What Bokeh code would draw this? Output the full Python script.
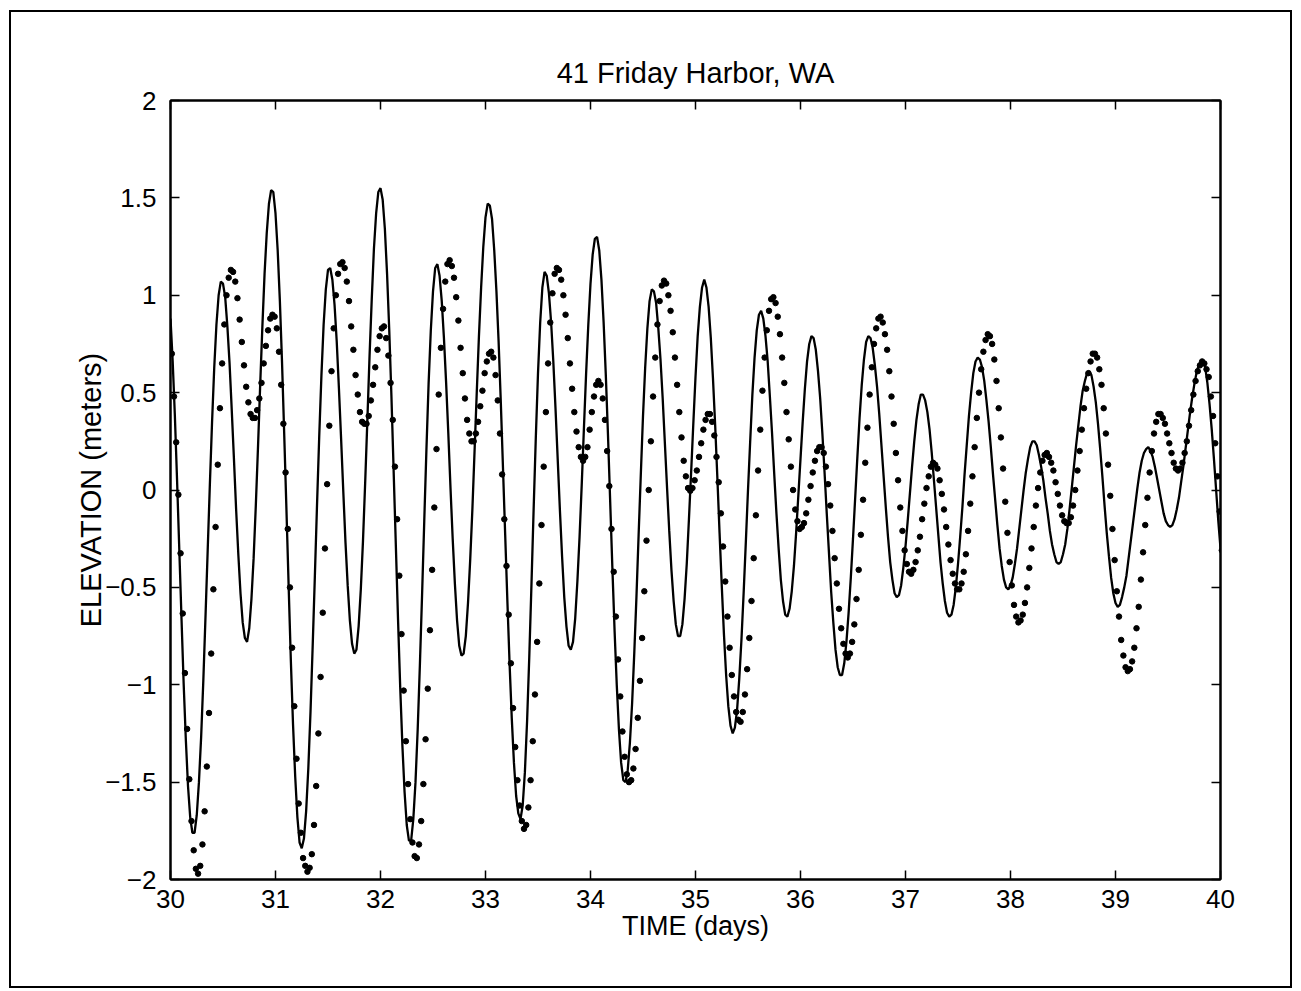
import numpy as np
from bokeh.plotting import figure
from bokeh.models import Range1d, LinearAxis, FixedTicker, ColumnDataSource
from bokeh.embed import file_html
from bokeh.resources import INLINE

# ---------------- data ----------------
title_text = "41 Friday Harbor, WA"
x_label = "TIME (days)"
y_label = "ELEVATION (meters)"

x_ticks = [30, 31, 32, 33, 34, 35, 36, 37, 38, 39, 40]
x_tick_labels = ["30", "31", "32", "33", "34", "35", "36", "37", "38", "39", "40"]
y_ticks = [-2, -1.5, -1, -0.5, 0, 0.5, 1, 1.5, 2]
y_tick_labels = ["\u22122", "\u22121.5", "\u22121", "\u22120.5", "0", "0.5", "1", "1.5", "2"]

# model (solid line): half-hourly samples starting at day 30.0
model_t0 = 30.0
model_dt = 1.0 / 48.0
model_elev = [
    0.88, 0.66, 0.38, 0.05, -0.30, -0.65, -0.99, -1.28, -1.52, -1.68,
    -1.76, -1.76, -1.67, -1.50, -1.27, -0.98, -0.65, -0.31, 0.03, 0.35,
    0.63, 0.85, 1.00, 1.07, 1.06, 0.99, 0.84, 0.65, 0.41, 0.16,
    -0.10, -0.33, -0.53, -0.68, -0.76, -0.78, -0.71, -0.56, -0.35, -0.08,
    0.22, 0.54, 0.84, 1.11, 1.32, 1.47, 1.54, 1.53, 1.42, 1.23,
    0.97, 0.65, 0.28, -0.10, -0.49, -0.87, -1.20, -1.47, -1.68, -1.81,
    -1.84, -1.79, -1.65, -1.43, -1.14, -0.80, -0.44, -0.07, 0.28, 0.59,
    0.85, 1.03, 1.13, 1.14, 1.08, 0.95, 0.76, 0.52, 0.26, -0.01,
    -0.27, -0.49, -0.67, -0.79, -0.84, -0.82, -0.70, -0.51, -0.26, 0.04,
    0.36, 0.69, 0.98, 1.24, 1.42, 1.53, 1.55, 1.49, 1.34, 1.11,
    0.82, 0.48, 0.10, -0.28, -0.66, -1.01, -1.31, -1.55, -1.72, -1.80,
    -1.80, -1.69, -1.50, -1.23, -0.90, -0.54, -0.16, 0.21, 0.55, 0.82,
    1.02, 1.14, 1.16, 1.10, 0.97, 0.78, 0.55, 0.29, 0.01, -0.25,
    -0.48, -0.67, -0.80, -0.85, -0.84, -0.75, -0.58, -0.36, -0.10, 0.20,
    0.50, 0.79, 1.04, 1.25, 1.40, 1.47, 1.46, 1.39, 1.23, 1.02,
    0.76, 0.45, 0.11, -0.23, -0.57, -0.89, -1.17, -1.40, -1.57, -1.66,
    -1.69, -1.62, -1.45, -1.19, -0.86, -0.49, -0.10, 0.27, 0.60, 0.86,
    1.04, 1.12, 1.10, 1.01, 0.86, 0.66, 0.42, 0.16, -0.10, -0.34,
    -0.55, -0.70, -0.80, -0.82, -0.78, -0.66, -0.47, -0.24, 0.03, 0.32,
    0.60, 0.85, 1.06, 1.21, 1.29, 1.30, 1.23, 1.08, 0.86, 0.59,
    0.28, -0.06, -0.40, -0.72, -1.00, -1.23, -1.40, -1.49, -1.50, -1.44,
    -1.30, -1.10, -0.84, -0.55, -0.23, 0.08, 0.38, 0.63, 0.83, 0.97,
    1.03, 1.02, 0.96, 0.83, 0.67, 0.47, 0.24, 0.01, -0.21, -0.41,
    -0.57, -0.69, -0.75, -0.75, -0.69, -0.56, -0.38, -0.15, 0.09, 0.34,
    0.58, 0.79, 0.94, 1.04, 1.08, 1.04, 0.94, 0.78, 0.57, 0.33,
    0.06, -0.22, -0.49, -0.74, -0.95, -1.11, -1.21, -1.25, -1.22, -1.13,
    -0.97, -0.77, -0.53, -0.27, 0.00, 0.25, 0.49, 0.68, 0.82, 0.90,
    0.92, 0.88, 0.79, 0.66, 0.48, 0.29, 0.08, -0.12, -0.30, -0.46,
    -0.57, -0.64, -0.65, -0.61, -0.52, -0.39, -0.22, -0.03, 0.16, 0.35,
    0.52, 0.66, 0.75, 0.79, 0.78, 0.72, 0.61, 0.47, 0.29, 0.09,
    -0.12, -0.32, -0.52, -0.68, -0.82, -0.91, -0.95, -0.95, -0.89, -0.78,
    -0.63, -0.45, -0.25, -0.04, 0.17, 0.37, 0.54, 0.67, 0.76, 0.79,
    0.78, 0.73, 0.64, 0.53, 0.39, 0.23, 0.07, -0.09, -0.24, -0.37,
    -0.46, -0.53, -0.55, -0.54, -0.49, -0.40, -0.29, -0.16, -0.02, 0.12,
    0.25, 0.36, 0.44, 0.49, 0.49, 0.46, 0.40, 0.31, 0.19, 0.05,
    -0.09, -0.23, -0.37, -0.48, -0.57, -0.63, -0.65, -0.64, -0.59, -0.50,
    -0.38, -0.24, -0.09, 0.08, 0.23, 0.38, 0.50, 0.60, 0.66, 0.68,
    0.67, 0.63, 0.56, 0.46, 0.35, 0.22, 0.08, -0.05, -0.18, -0.30,
    -0.39, -0.46, -0.50, -0.51, -0.49, -0.45, -0.38, -0.30, -0.20, -0.10,
    0.00, 0.09, 0.16, 0.22, 0.25, 0.25, 0.23, 0.18, 0.12, 0.05,
    -0.04, -0.12, -0.21, -0.28, -0.33, -0.37, -0.38, -0.37, -0.33, -0.28,
    -0.20, -0.10, 0.01, 0.12, 0.23, 0.33, 0.43, 0.51, 0.56, 0.60,
    0.61, 0.59, 0.53, 0.45, 0.34, 0.21, 0.07, -0.08, -0.22, -0.34,
    -0.45, -0.53, -0.58, -0.60, -0.59, -0.55, -0.50, -0.44, -0.35, -0.26,
    -0.17, -0.08, 0.01, 0.09, 0.15, 0.19, 0.21, 0.22, 0.20, 0.17,
    0.12, 0.06, 0.00, -0.06, -0.12, -0.16, -0.18, -0.19, -0.18, -0.15,
    -0.10, -0.04, 0.04, 0.12, 0.21, 0.30, 0.39, 0.47, 0.54, 0.60,
    0.64, 0.66, 0.66, 0.63, 0.55, 0.44, 0.31, 0.16, 0.00, -0.16, -0.30,
]

# observed (dots): half-hourly samples starting at day 30.0125
obs_t0 = 30.0125
obs_dt = 1.0 / 48.0
obs_elev = [
    0.70, 0.48, 0.245, -0.024, -0.325, -0.634, -0.94, -1.227, -1.485, -1.70,
    -1.85, -1.945, -1.97, -1.93, -1.82, -1.65, -1.42, -1.145, -0.84, -0.51,
    -0.19, 0.13, 0.42, 0.65, 0.85, 1.00, 1.09, 1.13, 1.12, 1.07,
    0.985, 0.875, 0.76, 0.64, 0.53, 0.45, 0.39, 0.37, 0.37, 0.41,
    0.47, 0.55, 0.65, 0.74, 0.82, 0.88, 0.90, 0.89, 0.83, 0.71,
    0.54, 0.34, 0.09, -0.20, -0.50, -0.81, -1.11, -1.38, -1.61, -1.76,
    -1.89, -1.93, -1.96, -1.94, -1.87, -1.72, -1.52, -1.25, -0.96, -0.63,
    -0.30, 0.03, 0.33, 0.61, 0.83, 1.00, 1.11, 1.16, 1.17, 1.14,
    1.07, 0.97, 0.84, 0.72, 0.59, 0.49, 0.40, 0.35, 0.34, 0.34,
    0.38, 0.46, 0.54, 0.63, 0.72, 0.79, 0.83, 0.84, 0.78, 0.69,
    0.55, 0.36, 0.12, -0.15, -0.44, -0.74, -1.03, -1.29, -1.51, -1.69,
    -1.81, -1.88, -1.89, -1.82, -1.70, -1.51, -1.28, -1.02, -0.72, -0.41,
    -0.09, 0.21, 0.49, 0.73, 0.93, 1.07, 1.16, 1.18, 1.15, 1.09,
    0.99, 0.87, 0.73, 0.60, 0.47, 0.36, 0.29, 0.25, 0.25, 0.29,
    0.35, 0.43, 0.51, 0.60, 0.66, 0.70, 0.71, 0.68, 0.59, 0.46,
    0.29, 0.08, -0.15, -0.39, -0.64, -0.89, -1.12, -1.32, -1.49, -1.62,
    -1.70, -1.74, -1.72, -1.63, -1.49, -1.29, -1.05, -0.78, -0.48, -0.18,
    0.12, 0.40, 0.65, 0.86, 1.01, 1.11, 1.14, 1.13, 1.08, 1.00,
    0.90, 0.78, 0.65, 0.52, 0.40, 0.30, 0.22, 0.17, 0.15, 0.17,
    0.22, 0.31, 0.40, 0.48, 0.54, 0.56, 0.54, 0.47, 0.36, 0.20,
    0.02, -0.20, -0.42, -0.65, -0.87, -1.06, -1.24, -1.37, -1.46, -1.50,
    -1.49, -1.43, -1.33, -1.17, -0.98, -0.76, -0.52, -0.26, 0.00, 0.25,
    0.48, 0.68, 0.85, 0.97, 1.05, 1.075, 1.06, 1.00, 0.92, 0.81,
    0.68, 0.54, 0.40, 0.27, 0.15, 0.07, 0.01, -0.004, 0.01, 0.05,
    0.10, 0.17, 0.24, 0.31, 0.36, 0.39, 0.39, 0.35, 0.28, 0.17,
    0.04, -0.12, -0.29, -0.47, -0.65, -0.81, -0.95, -1.06, -1.14, -1.18,
    -1.19, -1.14, -1.05, -0.92, -0.76, -0.57, -0.35, -0.13, 0.10, 0.31,
    0.51, 0.68, 0.82, 0.92, 0.98, 0.99, 0.96, 0.89, 0.80, 0.68,
    0.55, 0.40, 0.26, 0.12, 0.00, -0.10, -0.16, -0.20, -0.19, -0.17,
    -0.12, -0.05, 0.02, 0.09, 0.15, 0.20, 0.22, 0.22, 0.19, 0.12,
    0.03, -0.08, -0.21, -0.35, -0.48, -0.61, -0.71, -0.79, -0.84, -0.86,
    -0.84, -0.78, -0.69, -0.56, -0.41, -0.23, -0.05, 0.14, 0.32, 0.49,
    0.63, 0.75, 0.83, 0.88, 0.89, 0.86, 0.80, 0.72, 0.61, 0.48,
    0.34, 0.19, 0.05, -0.09, -0.21, -0.31, -0.38, -0.42, -0.43, -0.41,
    -0.37, -0.31, -0.24, -0.15, -0.07, 0.01, 0.07, 0.12, 0.14, 0.13,
    0.11, 0.05, -0.02, -0.10, -0.19, -0.28, -0.36, -0.43, -0.48, -0.51,
    -0.51, -0.48, -0.42, -0.33, -0.21, -0.07, 0.07, 0.22, 0.37, 0.50,
    0.62, 0.71, 0.77, 0.80, 0.79, 0.75, 0.67, 0.56, 0.42, 0.27,
    0.11, -0.06, -0.22, -0.37, -0.49, -0.59, -0.65, -0.68, -0.67, -0.64,
    -0.58, -0.50, -0.40, -0.30, -0.19, -0.08, 0.01, 0.09, 0.15, 0.18,
    0.19, 0.17, 0.14, 0.10, 0.04, -0.02, -0.08, -0.13, -0.16, -0.17,
    -0.17, -0.14, -0.08, 0.00, 0.10, 0.20, 0.31, 0.42, 0.52, 0.60,
    0.66, 0.70, 0.70, 0.68, 0.62, 0.54, 0.42, 0.29, 0.13, -0.03,
    -0.20, -0.36, -0.52, -0.65, -0.77, -0.85, -0.91, -0.93, -0.92, -0.88,
    -0.81, -0.71, -0.60, -0.46, -0.32, -0.18, -0.04, 0.09, 0.20, 0.29,
    0.35, 0.39, 0.39, 0.37, 0.34, 0.29, 0.24, 0.19, 0.14, 0.11,
    0.10, 0.11, 0.14, 0.19, 0.25, 0.33, 0.41, 0.49, 0.56, 0.61,
    0.64, 0.66, 0.65, 0.62, 0.58, 0.48, 0.38, 0.24, 0.07, -0.11, -0.31,
]

# ---------------- build the chart ----------------
model_time = model_t0 + model_dt * np.arange(len(model_elev))
obs_time = obs_t0 + obs_dt * np.arange(len(obs_elev))

model_src = ColumnDataSource(data=dict(t=model_time, v=model_elev))
obs_src = ColumnDataSource(data=dict(t=obs_time, v=obs_elev))

FONT = "Liberation Sans"

p = figure(
    width=1283, height=978,
    x_range=Range1d(30, 40), y_range=Range1d(-2, 2),
    output_backend="svg", toolbar_location=None,
    min_border_left=159, min_border_right=74,
    min_border_top=88, min_border_bottom=111,
)
p.styles = {"border": "2px solid black", "margin-left": "9px", "margin-top": "10px"}
p.background_fill_color = "white"
p.border_fill_color = "white"
p.outline_line_color = "black"
p.outline_line_width = 2
p.xgrid.visible = False
p.ygrid.visible = False

p.title.text = title_text
p.title.align = "center"
p.title.text_font = FONT
p.title.text_font_size = "29px"
p.title.text_font_style = "normal"
p.title.text_color = "black"
p.title.standoff = 24

def style_axis(ax, ticks, labels, show_labels):
    ax.ticker = FixedTicker(ticks=ticks)
    ax.major_label_overrides = {t: l for t, l in zip(ticks, labels)}
    ax.major_tick_in = 9
    ax.major_tick_out = 0
    ax.minor_tick_line_color = None
    ax.major_tick_line_color = "black"
    ax.major_tick_line_width = 1.5
    ax.axis_line_color = "black"
    ax.axis_line_width = 2
    ax.major_label_text_font = FONT
    ax.major_label_text_color = "black"
    if show_labels:
        ax.major_label_text_font_size = "26px"
    else:
        ax.major_label_text_font_size = "0px"
        ax.major_label_standoff = 0

xa = p.xaxis[0]
ya = p.yaxis[0]
style_axis(xa, x_ticks, x_tick_labels, True)
style_axis(ya, y_ticks, y_tick_labels, True)
xa.major_label_standoff = 10
ya.major_label_standoff = 14
xa.axis_label = x_label
ya.axis_label = y_label
for ax in (xa, ya):
    ax.axis_label_text_font = FONT
    ax.axis_label_text_font_style = "normal"
    ax.axis_label_text_color = "black"
xa.axis_label_text_font_size = "27px"
ya.axis_label_text_font_size = "29px"
xa.axis_label_standoff = 0
ya.axis_label_standoff = -5

top_ax = LinearAxis()
right_ax = LinearAxis()
style_axis(top_ax, x_ticks, ["" for _ in x_ticks], False)
style_axis(right_ax, y_ticks, ["" for _ in y_ticks], False)
p.add_layout(top_ax, "above")
p.add_layout(right_ax, "right")

p.line("t", "v", source=model_src, line_color="black", line_width=2.3)
p.scatter("t", "v", source=obs_src, marker="circle", size=5.5,
          fill_color="black", line_color="black")

open("out.html", "w").write(file_html(p, INLINE))
